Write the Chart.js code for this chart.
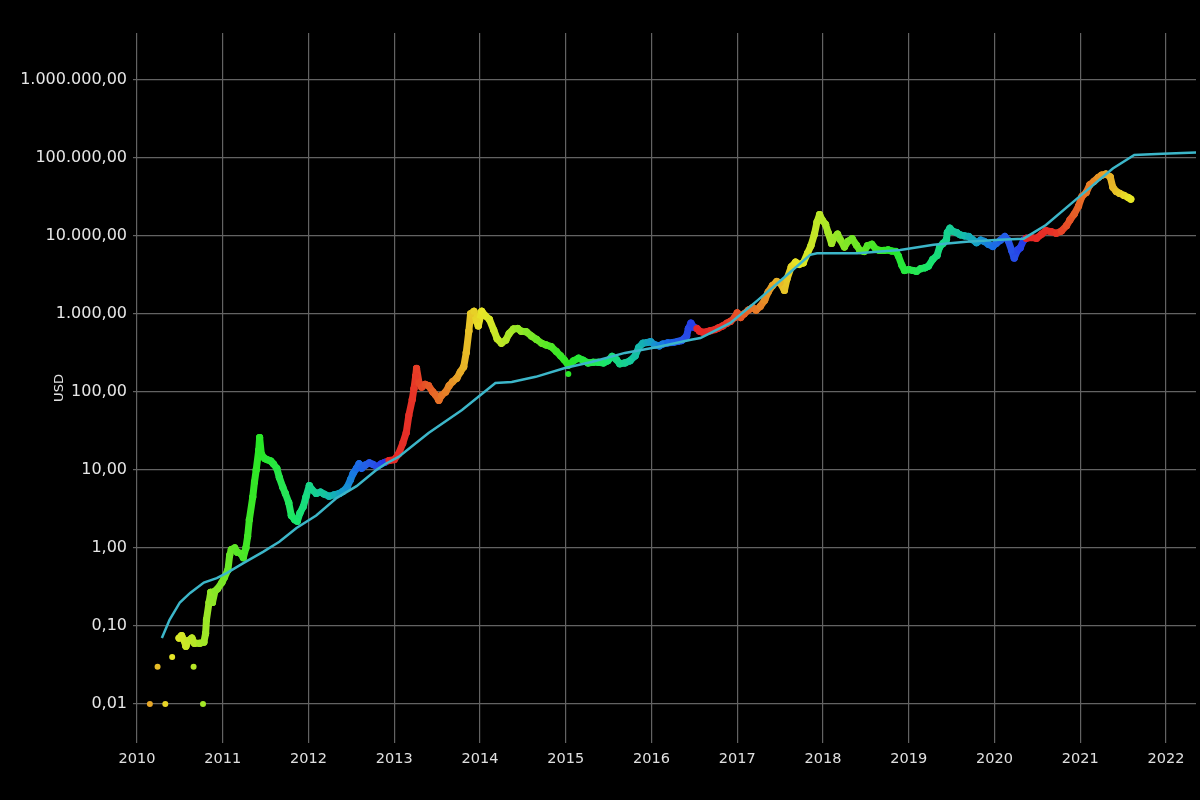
<!DOCTYPE html>
<html>
<head>
<meta charset="utf-8">
<script src="https://cdn.jsdelivr.net/npm/chart.js@4"></script>
<style>
  html, body { margin: 0; padding: 0; background: #000; overflow: hidden; }
  canvas { display: block; }
</style>
</head>
<body>
<canvas id="s2f" width="1200" height="800"></canvas>
<script>
// Tick labels
const YEARS = [2010, 2011, 2012, 2013, 2014, 2015, 2016, 2017, 2018, 2019, 2020, 2021, 2022];
const USD_TICKS = [0.01, 0.1, 1, 10, 100, 1000, 10000, 100000, 1000000];

// Early sparse trades (shown as loose dots)
const EARLY_T = [2010.15, 2010.33, 2010.77, 2010.24, 2010.66, 2010.41, 2015.03];
const EARLY_V = [0.01, 0.01, 0.01, 0.03, 0.03, 0.04, 170];

// Price (decimal year, USD)
const PRICE_T = [
  2010.49, 2010.52, 2010.55, 2010.57, 2010.60, 2010.64, 2010.67, 2010.73, 2010.78, 2010.80,
  2010.81, 2010.84, 2010.86, 2010.88, 2010.91, 2010.94, 2010.99, 2011.02, 2011.06, 2011.08,
  2011.10, 2011.14, 2011.17, 2011.21, 2011.24, 2011.27, 2011.29, 2011.31, 2011.35, 2011.37,
  2011.39, 2011.42, 2011.43, 2011.45, 2011.49, 2011.52, 2011.56, 2011.59, 2011.63, 2011.66,
  2011.70, 2011.73, 2011.77, 2011.80, 2011.84, 2011.87, 2011.90, 2011.94, 2011.97, 2012.01,
  2012.04, 2012.09, 2012.14, 2012.18, 2012.24, 2012.30, 2012.36, 2012.40, 2012.45, 2012.49,
  2012.52, 2012.56, 2012.59, 2012.62, 2012.66, 2012.71, 2012.75, 2012.80, 2012.85, 2012.89,
  2012.94, 2013.00, 2013.05, 2013.10, 2013.14, 2013.17, 2013.21, 2013.23, 2013.25, 2013.26,
  2013.29, 2013.32, 2013.36, 2013.40, 2013.45, 2013.48, 2013.52, 2013.55, 2013.60, 2013.64,
  2013.68, 2013.73, 2013.77, 2013.81, 2013.84, 2013.87, 2013.89, 2013.93, 2013.96, 2013.98,
  2014.02, 2014.06, 2014.11, 2014.16, 2014.20, 2014.25, 2014.30, 2014.34, 2014.39, 2014.44,
  2014.48, 2014.54, 2014.60, 2014.66, 2014.72, 2014.77, 2014.83, 2014.89, 2014.94, 2014.98,
  2015.03, 2015.09, 2015.15, 2015.20, 2015.26, 2015.32, 2015.38, 2015.44, 2015.49, 2015.54,
  2015.59, 2015.63, 2015.69, 2015.75, 2015.81, 2015.85, 2015.90, 2015.95, 2015.99, 2016.04,
  2016.09, 2016.13, 2016.19, 2016.25, 2016.31, 2016.35, 2016.41, 2016.43, 2016.46, 2016.49,
  2016.53, 2016.56, 2016.60, 2016.64, 2016.69, 2016.74, 2016.78, 2016.83, 2016.88, 2016.92,
  2016.97, 2017.00, 2017.04, 2017.08, 2017.13, 2017.18, 2017.22, 2017.27, 2017.32, 2017.36,
  2017.41, 2017.46, 2017.50, 2017.55, 2017.58, 2017.63, 2017.68, 2017.72, 2017.77, 2017.82,
  2017.86, 2017.90, 2017.93, 2017.96, 2017.99, 2018.03, 2018.06, 2018.10, 2018.13, 2018.17,
  2018.20, 2018.25, 2018.29, 2018.34, 2018.39, 2018.43, 2018.48, 2018.52, 2018.57, 2018.62,
  2018.66, 2018.71, 2018.76, 2018.80, 2018.85, 2018.88, 2018.92, 2018.95, 2019.00, 2019.05,
  2019.09, 2019.14, 2019.19, 2019.23, 2019.28, 2019.33, 2019.36, 2019.40, 2019.44, 2019.45,
  2019.48, 2019.51, 2019.56, 2019.60, 2019.65, 2019.70, 2019.74, 2019.79, 2019.84, 2019.88,
  2019.93, 2019.98, 2020.02, 2020.07, 2020.12, 2020.16, 2020.20, 2020.23, 2020.27, 2020.30,
  2020.34, 2020.37, 2020.43, 2020.49, 2020.55, 2020.60, 2020.66, 2020.72, 2020.78, 2020.84,
  2020.88, 2020.93, 2020.98, 2021.02, 2021.07, 2021.11, 2021.16, 2021.21, 2021.25, 2021.30,
  2021.35, 2021.38, 2021.42, 2021.46, 2021.51, 2021.56, 2021.59
];
const PRICE_V = [
  0.07, 0.075, 0.065, 0.055, 0.065, 0.07, 0.06, 0.06, 0.062, 0.08,
  0.12, 0.2, 0.27, 0.2, 0.28, 0.3, 0.36, 0.42, 0.52, 0.8,
  0.95, 1.0, 0.88, 0.85, 0.75, 1.0, 1.4, 2.3, 4.5, 7,
  10, 18, 26, 16, 14, 13.5, 13, 12, 10.5, 8,
  6, 5, 3.8, 2.6, 2.3, 2.2, 2.8, 3.4, 4.5, 6.3,
  5.6, 5.0, 5.2, 4.9, 4.6, 4.8, 5.0, 5.3, 6.0, 7.5,
  9.0, 10.5, 12, 10.5, 11.5, 12.3, 11.8, 11.0, 12, 12.5,
  13.2, 13.5, 16, 22, 30, 50, 80, 110, 160, 200,
  130, 115, 125, 120, 100, 92, 78, 90, 100, 120,
  135, 150, 180, 210, 320, 600, 1000, 1080, 800, 700,
  1080, 950, 850, 620, 480, 420, 460, 560, 640, 650,
  600, 590, 520, 470, 420, 400, 380, 330, 290, 260,
  220, 250, 270, 255, 235, 240, 240, 235, 250, 285,
  260, 230, 235, 250, 290, 370, 420, 430, 440, 400,
  390, 410, 425, 430, 445, 455, 520, 650, 760, 680,
  650, 600, 580, 590, 610, 630, 660, 700, 760, 800,
  900, 1030, 900, 1000, 1120, 1200, 1120, 1250, 1500, 1900,
  2300, 2600, 2500, 2000, 2800, 4000, 4600, 4300, 4500, 6000,
  7500, 10500, 15000, 18700, 16000, 14000, 11000, 8000, 9500, 10500,
  9000, 7200, 8500, 9200, 7600, 6500, 6300, 7500, 7800, 6700,
  6500, 6500, 6600, 6400, 6300, 5500, 4200, 3600, 3700, 3600,
  3500, 3800, 3900, 4100, 5000, 5600, 7200, 8000, 9000, 11000,
  12500, 11500, 11000, 10300, 10000, 9800, 9000, 8200, 8800, 8500,
  7800, 7300, 8000, 8800, 9800, 8700, 6500, 5200, 6600, 7000,
  8800, 9300, 9500, 9300, 10500, 11700, 11300, 10800, 11500, 13500,
  16000, 19000, 24000, 32000, 36000, 45000, 50000, 56000, 60000, 62000,
  57000, 42000, 37000, 35000, 33000, 31000, 29500
];

// Stock-to-flow model line
const MODEL_T = [
  2010.29, 2010.38, 2010.50, 2010.62, 2010.78, 2010.93, 2011.05, 2011.24, 2011.47, 2011.66,
  2011.86, 2012.09, 2012.32, 2012.56, 2012.79, 2012.90, 2013.05, 2013.40, 2013.79, 2014.18,
  2014.37, 2014.65, 2014.99, 2015.30, 2015.69, 2016.07, 2016.46, 2016.57, 2016.92, 2017.24,
  2017.55, 2017.85, 2017.93, 2018.40, 2018.90, 2019.29, 2019.67, 2020.06, 2020.34, 2020.60,
  2020.99, 2021.38, 2021.63, 2021.96, 2022.40
];
const MODEL_V = [
  0.07, 0.12, 0.2, 0.265, 0.36, 0.41, 0.48, 0.64, 0.89, 1.2,
  1.8, 2.6, 4.3, 6.2, 10, 12, 14.7, 29.8, 58.6, 130,
  134, 156, 202, 242, 316, 377, 465, 490, 765, 1500,
  2950, 5700, 6000, 6000, 6600, 7700, 8400, 8900, 9200, 13800,
  31800, 73000, 109000, 113000, 118000
];

// halving cycle boundaries, used only for the rainbow colouring
const CYCLES = [2009.3, 2012.91, 2016.52, 2020.36, 2024.36];
const HUE_STOPS = [[0, 0], [0.08, 3], [0.2, 30], [0.3, 58], [0.55, 112], [0.66, 132], [0.8, 168], [0.9, 215], [1, 235]];

function cycleColor(t) {
  let i = 0;
  while (i < CYCLES.length - 2 && t >= CYCLES[i + 1]) i++;
  const f = Math.min(1, Math.max(0, (t - CYCLES[i]) / (CYCLES[i + 1] - CYCLES[i])));
  let h = 235;
  for (let k = 1; k < HUE_STOPS.length; k++) {
    if (f <= HUE_STOPS[k][0]) {
      const [f0, h0] = HUE_STOPS[k - 1];
      const [f1, h1] = HUE_STOPS[k];
      h = h0 + (h1 - h0) * (f - f0) / (f1 - f0);
      break;
    }
  }
  // darker through the teal/cyan part, like the reference palette
  const dip = Math.max(0, 1 - Math.abs(h - 180) / 45);
  const l = 53 - 14 * dip;
  return `hsl(${h.toFixed(0)}, 80%, ${l.toFixed(0)}%)`;
}

function fmtUSD(v) {
  const [i, d] = Number(v).toFixed(2).split('.');
  return i.replace(/\B(?=(\d{3})+(?!\d))/g, '.') + ',' + d;
}

const toPoints = (ts, vs) => ts.map((t, i) => ({ x: t, y: vs[i] }));

const ctx = document.getElementById('s2f');
new Chart(ctx, {
  type: 'scatter',
  data: {
    datasets: [
      {
        label: 'Stock-to-Flow',
        data: toPoints(MODEL_T, MODEL_V),
        showLine: true,
        borderColor: '#3cb6c9',
        borderWidth: 2.5,
        pointRadius: 0,
        tension: 0,
        order: 0
      },
      {
        label: 'Price',
        data: toPoints(PRICE_T, PRICE_V),
        showLine: true,
        borderWidth: 7,
        borderCapStyle: 'round',
        borderJoinStyle: 'round',
        tension: 0,
        pointRadius: 3.6,
        pointBorderWidth: 0,
        pointBackgroundColor: c => c.raw ? cycleColor(c.raw.x) : '#fff',
        segment: {
          borderColor: c => cycleColor((c.p0.parsed.x + c.p1.parsed.x) / 2)
        },
        order: 1
      },
      {
        label: 'Early',
        data: toPoints(EARLY_T, EARLY_V),
        showLine: false,
        pointRadius: 3,
        pointBorderWidth: 0,
        pointBackgroundColor: c => c.raw ? cycleColor(c.raw.x) : '#fff',
        order: 2
      }
    ]
  },
  options: {
    responsive: false,
    animation: false,
    devicePixelRatio: 1,
    layout: { padding: { top: 33, right: 0, bottom: 0, left: 0 } },
    plugins: {
      legend: { display: false },
      tooltip: { enabled: false }
    },
    scales: {
      x: {
        type: 'linear',
        min: 2010,
        max: 2022.35,
        afterBuildTicks: s => { s.ticks = YEARS.map(v => ({ value: v })); },
        afterFit: s => { s.height = 57; },
        border: { display: false },
        grid: { color: '#636363', lineWidth: 1.2, drawTicks: false },
        ticks: {
          color: '#e0e0e0',
          padding: 8,
          maxRotation: 0,
          font: { family: 'DejaVu Sans', size: 14.5 },
          callback: v => String(v)
        }
      },
      y: {
        type: 'logarithmic',
        min: Math.pow(10, -2.5),
        max: Math.pow(10, 6.6),
        afterBuildTicks: s => { s.ticks = USD_TICKS.map(v => ({ value: v })); },
        afterFit: s => { s.width = 137; },
        border: { display: false },
        grid: { color: '#636363', lineWidth: 1.2, tickLength: 4 },
        ticks: {
          color: '#e6e6e6',
          padding: 6,
          font: { family: 'DejaVu Sans', size: 16 },
          callback: v => fmtUSD(v)
        },
        title: {
          display: true,
          text: 'USD',
          color: '#e0e0e0',
          padding: { top: 52, bottom: 0 },
          font: { family: 'DejaVu Sans', size: 13 }
        }
      }
    }
  }
});
</script>
</body>
</html>
